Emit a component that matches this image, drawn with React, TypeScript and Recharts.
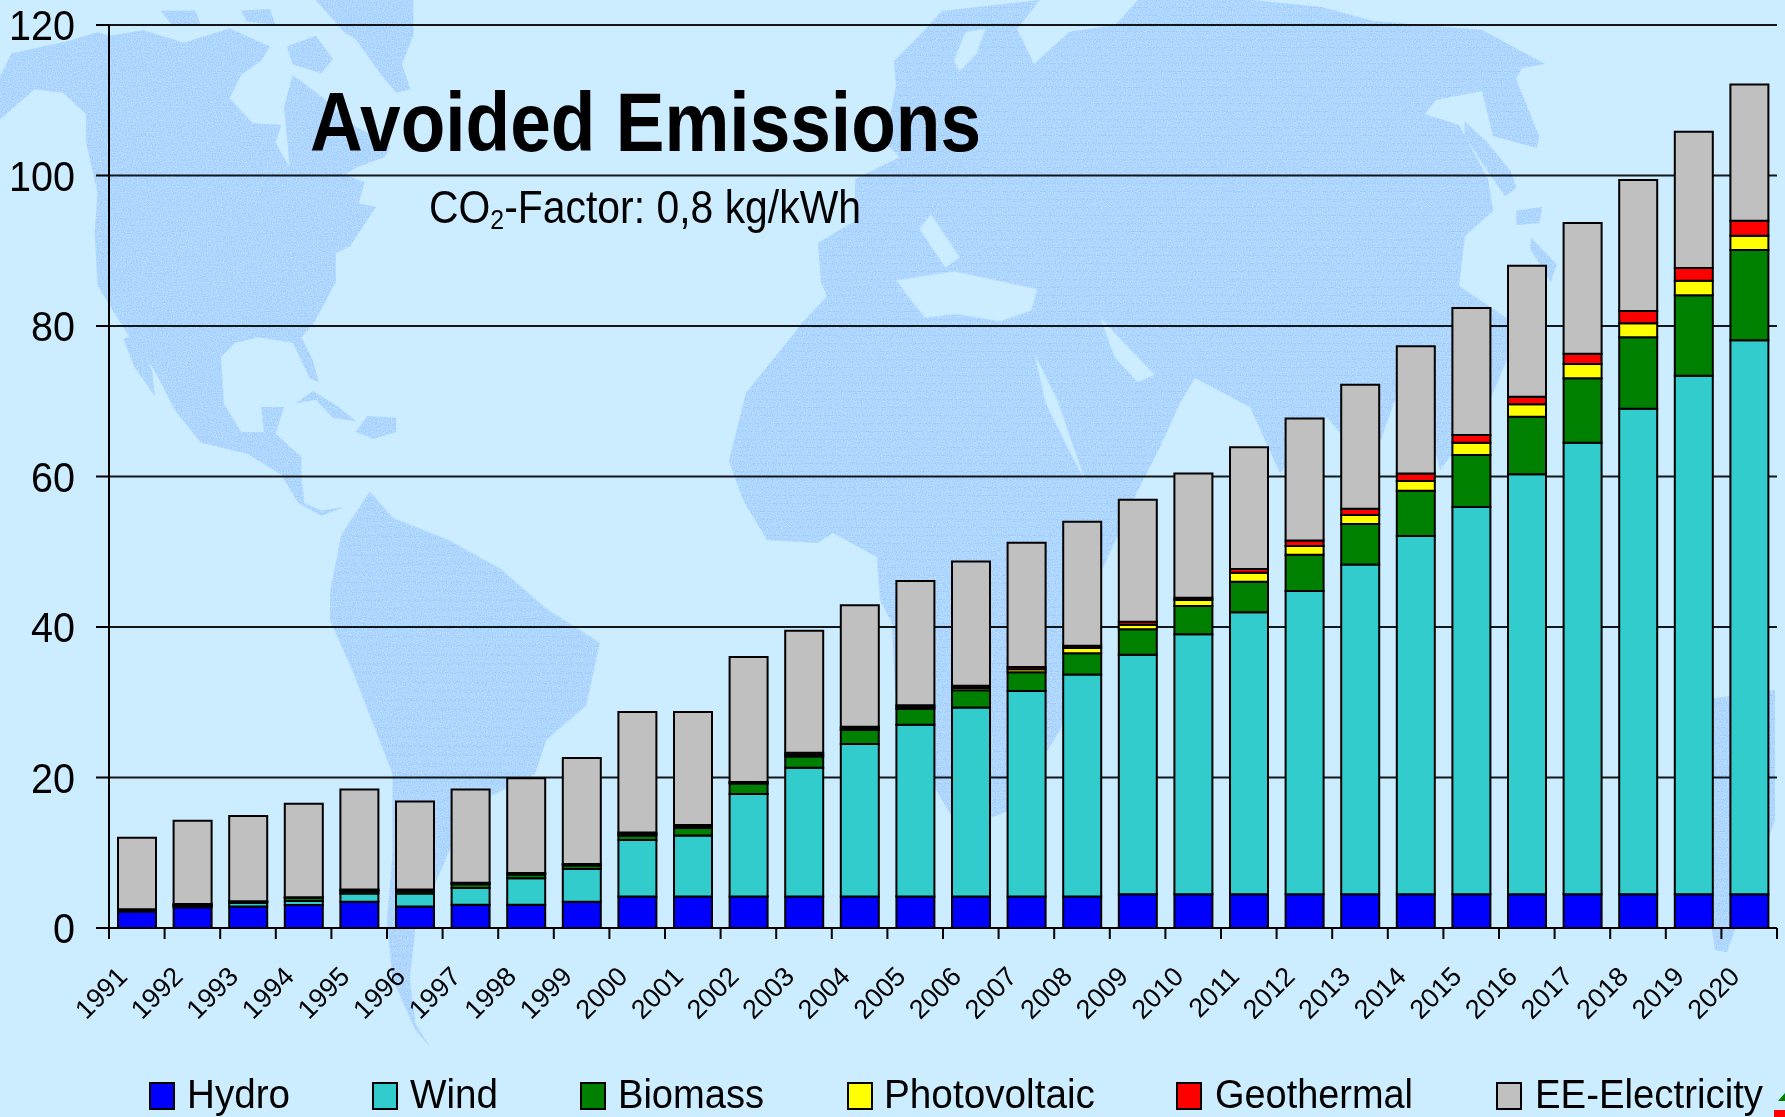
import { BarChart, Bar, XAxis, YAxis, CartesianGrid, Legend } from "recharts";

const years = [
  "1991", "1992", "1993", "1994", "1995", "1996", "1997", "1998", "1999", "2000",
  "2001", "2002", "2003", "2004", "2005", "2006", "2007", "2008", "2009", "2010",
  "2011", "2012", "2013", "2014", "2015", "2016", "2017", "2018", "2019", "2020",
];
const hydro = [
  2.2, 2.75, 2.85, 3.05, 3.5, 2.85, 3.1, 3.1, 3.5, 4.2,
  4.2, 4.2, 4.2, 4.2, 4.2, 4.2, 4.2, 4.2, 4.5, 4.5,
  4.5, 4.5, 4.5, 4.5, 4.5, 4.5, 4.5, 4.5, 4.5, 4.5,
];
const wind = [
  0.1, 0.1, 0.5, 0.55, 1.1, 1.75, 2.2, 3.5, 4.35, 7.5,
  8.1, 13.6, 17.1, 20.25, 22.8, 25.1, 27.3, 29.5, 31.8, 34.55,
  37.45, 40.3, 43.8, 47.6, 51.45, 55.8, 60.0, 64.5, 68.9, 73.6,
];
const biomass = [
  0.1, 0.2, 0.1, 0.4, 0.3, 0.3, 0.5, 0.5, 0.45, 0.6,
  1.0, 1.4, 1.5, 1.85, 2.15, 2.3, 2.5, 2.8, 3.4, 3.75,
  4.05, 4.8, 5.4, 6.0, 6.9, 7.65, 8.55, 9.5, 10.7, 12.0,
];
const photovoltaic = [
  0.05, 0.05, 0.05, 0.05, 0.1, 0.1, 0.1, 0.1, 0.1, 0.2,
  0.2, 0.1, 0.2, 0.2, 0.2, 0.3, 0.4, 0.7, 0.6, 0.8,
  1.2, 1.15, 1.2, 1.3, 1.65, 1.65, 1.9, 1.85, 1.9, 1.9,
];
const geothermal = [
  0.05, 0.1, 0.05, 0.05, 0.1, 0.1, 0.1, 0.1, 0.1, 0.2,
  0.2, 0.1, 0.3, 0.25, 0.25, 0.3, 0.3, 0.3, 0.4, 0.3,
  0.5, 0.75, 0.8, 1.0, 1.0, 1.0, 1.35, 1.65, 1.7, 2.0,
];
const eeElectricity = [
  9.5, 11.05, 11.35, 12.4, 13.3, 11.7, 12.4, 12.6, 14.1, 16.0,
  15.0, 16.6, 16.2, 16.15, 16.5, 16.5, 16.5, 16.5, 16.2, 16.5,
  16.2, 16.2, 16.5, 16.9, 16.9, 17.4, 17.4, 17.4, 18.1, 18.1,
];

const yTicks = [0, 20, 40, 60, 80, 100, 120];

const data = years.map((year, i) => ({
  year,
  Hydro: hydro[i],
  Wind: wind[i],
  Biomass: biomass[i],
  Photovoltaic: photovoltaic[i],
  Geothermal: geothermal[i],
  "EE-Electricity": eeElectricity[i],
}));

const series = [
  { key: "Hydro", color: "#0000FF" },
  { key: "Wind", color: "#33CCCC" },
  { key: "Biomass", color: "#008000" },
  { key: "Photovoltaic", color: "#FFFF00" },
  { key: "Geothermal", color: "#FF0000" },
  { key: "EE-Electricity", color: "#C0C0C0" },
];

// swatch x, text x, text width of the legend entries
const legendLayout = [
  [150, 187, 103],
  [373, 410, 88],
  [581, 618, 146],
  [848, 884, 211],
  [1177, 1215, 198],
  [1497, 1535, 228],
];

const FONT = '"Liberation Sans", Arial, sans-serif';
const BG = "#CCECFF";
const LAND = "#A6D1FE";
const BAND = 55.6;

function YTick({ x, y, payload }: any) {
  const label = String(payload.value);
  return (
    <text
      x={x}
      y={y}
      dy={15}
      textAnchor="end"
      fontFamily={FONT}
      fontSize={42}
      textLength={label.length * 22}
      lengthAdjust="spacingAndGlyphs"
      fill="#000"
    >
      {label}
    </text>
  );
}

function XTick({ x, payload, index }: any) {
  const top = 928;
  return (
    <g>
      <line x1={x - BAND / 2} x2={x - BAND / 2} y1={top} y2={top + 11} stroke="#000" strokeWidth={2} />
      {index === years.length - 1 && (
        <line x1={x + BAND / 2} x2={x + BAND / 2} y1={top} y2={top + 11} stroke="#000" strokeWidth={2} />
      )}
      <text
        x={x - 8}
        y={top + 50}
        textAnchor="end"
        fontFamily={FONT}
        fontSize={27}
        fill="#000"
        transform={`rotate(-45 ${x - 8} ${top + 50})`}
      >
        {payload.value}
      </text>
    </g>
  );
}

function LegendRow() {
  return (
    <svg width={1785} height={118} style={{ display: "block" }}>
      {series.map((s, i) => (
        <g key={s.key}>
          <rect x={legendLayout[i][0]} y={84} width={24} height={26} fill={s.color} stroke="#000" strokeWidth={2} />
          <text
            x={legendLayout[i][1]}
            y={109}
            fontFamily={FONT}
            fontSize={40}
            textLength={legendLayout[i][2]}
            lengthAdjust="spacingAndGlyphs"
            fill="#000"
          >
            {s.key}
          </text>
        </g>
      ))}
    </svg>
  );
}

function WorldMap() {
  return (
    <svg width={1785} height={1117} style={{ position: "absolute", left: 0, top: 0 }}>
      <defs>
        <pattern id="land" width={8} height={8} patternUnits="userSpaceOnUse">
          <rect width={8} height={8} fill={LAND} />
          <rect x={0} y={7} width={8} height={1} fill="#9CCBFD" />
        </pattern>
        <filter id="stipple" x="0" y="0" width="100%" height="100%" colorInterpolationFilters="sRGB">
          <feTurbulence type="fractalNoise" baseFrequency="0.8" numOctaves="1" seed="4" result="noise" />
          <feColorMatrix
            in="noise"
            type="matrix"
            values="0 0 0 0 0.76  0 0 0 0 0.89  0 0 0 0 1  0 0 0 3.2 -1.3"
            result="spots"
          />
          <feComposite in="spots" in2="SourceAlpha" operator="in" result="clipped" />
          <feMerge>
            <feMergeNode in="SourceGraphic" />
            <feMergeNode in="clipped" />
          </feMerge>
        </filter>
      </defs>
      <g fill="url(#land)" filter="url(#stipple)">
        {/* Americas, traced at the scale of the left half */}
        <g transform="scale(0.574 0.357)">
          <path d="M0 215 L20 150 L120 115 L170 90 L190 100 L250 85 L320 120 L400 80 L470 130 L455 170 L420 210 L400 275 L440 345 L490 350 L480 400 L505 470 L495 300 L510 210 L560 270 L610 345 L680 410 L670 440 L620 470 L600 490 L635 510 L625 570 L655 580 L630 640 L610 690 L585 710 L585 790 L545 910 L525 945 L545 1010 L555 1070 L540 1060 L510 960 L450 945 L410 960 L385 1000 L390 1130 L420 1210 L460 1210 L455 1140 L495 1140 L480 1215 L525 1280 L525 1330 L530 1410 L560 1430 L600 1420 L560 1445 L520 1410 L490 1330 L430 1270 L350 1240 L305 1150 L270 1040 L220 930 L170 800 L165 650 L170 540 L150 400 L150 320 L110 260 L60 250 L0 335 Z" />
          <path d="M215 950 L235 935 L265 1040 L270 1110 L235 1030 Z" />
          <path d="M280 30 L340 30 L350 70 L300 70 Z" />
          <path d="M420 30 L470 25 L480 70 L430 60 Z" />
          <path d="M550 0 L720 0 L720 100 L700 180 L715 250 L690 260 L660 200 L620 110 L600 90 Z" />
          <path d="M500 130 L550 100 L580 165 L560 205 L510 180 Z" />
          <path d="M515 1130 L545 1095 L590 1140 L620 1180 L580 1170 L550 1120 Z" />
          <path d="M640 1165 L690 1170 L690 1210 L650 1230 L620 1210 Z" />
        </g>
        <g transform="scale(1.138)">
          <path d="M290 520 L300 470 L325 432 L345 455 L395 475 L440 500 L480 535 L527 565 L515 620 L480 650 L470 680 L430 700 L400 735 L385 770 L365 815 L360 860 L365 900 L378 920 L365 905 L345 860 L340 810 L345 750 L345 680 L310 590 L290 545 Z" />
        </g>
        {/* Africa and Eurasia as one outline, seas cut back afterwards */}
        <path d="M821 282 L818 243 L855 221 L855 179 L900 157 L885 143 L896 86 L894 61 L919 36 L942 11 L1040 0 L1017 29 L1034 64 L1069 32 L1115 25 L1138 0 L1252 0 L1321 7 L1373 21 L1482 30 L1545 64 L1522 68 L1516 79 L1539 136 L1537 148 L1493 136 L1482 91 L1436 100 L1425 114 L1459 125 L1488 179 L1493 211 L1465 236 L1459 286 L1511 321 L1508 357 L1490 400 L1470 430 L1440 470 L1430 430 L1395 400 L1370 470 L1327 417 L1280 473 L1250 407 L1195 378 L1180 403 L1160 447 L1137 492 L1100 575 L1090 650 L1060 730 L1010 810 L960 830 L930 780 L895 690 L892 623 L880 600 L877 557 L833 533 L817 543 L767 540 L743 500 L729 461 L746 393 L804 321 L827 296 Z" />
        <path d="M1700 700 L1775 690 L1775 820 L1727 952 L1715 950 L1700 850 Z" />
      </g>
      <g transform="translate(885 0) scale(0.574 0.357)" fill={BG}>
        <path d="M20 785 L120 760 L265 810 L255 870 L200 900 L125 880 L70 890 L40 830 Z" />
        <path d="M260 990 L300 1120 L350 1350 L320 1260 L280 1130 Z" />
        <path d="M375 890 L470 1050 L440 1070 L400 1000 Z" />
        <path d="M80 600 L130 720 L105 750 L60 640 Z" />
        <path d="M140 90 L175 80 L160 150 L130 200 L120 170 Z" />
      </g>
      <g fill="url(#land)" filter="url(#stipple)">
        <g transform="translate(885 0) scale(0.574 0.357)">
          <path d="M1010 340 L1050 400 L1090 480 L1100 525 L1080 550 L1050 480 L1010 380 Z" />
          <path d="M1100 590 L1145 580 L1140 625 L1100 630 Z" />
          <path d="M1125 665 L1170 740 L1160 790 L1125 700 Z" />
        </g>
      </g>
      {/* clipped shapes at the corner of the original slide */}
      <polygon points="1778,1101 1785,1093 1785,1101" fill="#008000" />
      <rect x={1774} y={1110} width={11} height={7} fill="#FF0000" />
    </svg>
  );
}

export default function App() {
  return (
    <div
      style={{
        position: "absolute",
        left: 0,
        top: 0,
        width: 1785,
        height: 1117,
        background: BG,
        overflow: "hidden",
      }}
    >
      <WorldMap />
      <div style={{ position: "absolute", left: 0, top: 0 }}>
        <BarChart
          width={1785}
          height={1117}
          data={data}
          margin={{ top: 25, right: 8, bottom: 0, left: 0 }}
          barCategoryGap={8}
        >
          <CartesianGrid vertical={false} stroke="#000" strokeWidth={2} strokeOpacity={0.9} />
          <XAxis
            dataKey="year"
            interval={0}
            height={71}
            tickLine={false}
            axisLine={{ stroke: "#000", strokeWidth: 2 }}
            tick={<XTick />}
          />
          <YAxis
            domain={[0, 120]}
            ticks={yTicks}
            width={109}
            tickSize={13}
            tickMargin={21}
            tickLine={{ stroke: "#000", strokeWidth: 2 }}
            axisLine={{ stroke: "#000", strokeWidth: 2 }}
            tick={<YTick />}
          />
          <YAxis
            yAxisId="right"
            orientation="right"
            domain={[0, 120]}
            width={0}
            tick={false}
            tickLine={false}
            axisLine={{ stroke: "#000", strokeWidth: 1.5 }}
          />
          <Legend
            content={<LegendRow />}
            wrapperStyle={{ left: 0, bottom: 0, width: 1785, height: 118 }}
          />
          {series.map((s) => (
            <Bar
              key={s.key}
              dataKey={s.key}
              stackId="a"
              fill={s.color}
              stroke="#000"
              strokeWidth={2}
              barSize={38}
              isAnimationActive={false}
            />
          ))}
          <text
            x={310}
            y={151}
            fontFamily={FONT}
            fontWeight="bold"
            fontSize={84}
            textLength={671}
            lengthAdjust="spacingAndGlyphs"
            fill="#000"
          >
            Avoided Emissions
          </text>
          <text
            x={429}
            y={223}
            fontFamily={FONT}
            fontSize={46}
            textLength={432}
            lengthAdjust="spacingAndGlyphs"
            fill="#000"
          >
            CO
            <tspan fontSize={28} dy={6}>2</tspan>
            <tspan dy={-6}>-Factor: 0,8 kg/kWh</tspan>
          </text>
        </BarChart>
      </div>
    </div>
  );
}
